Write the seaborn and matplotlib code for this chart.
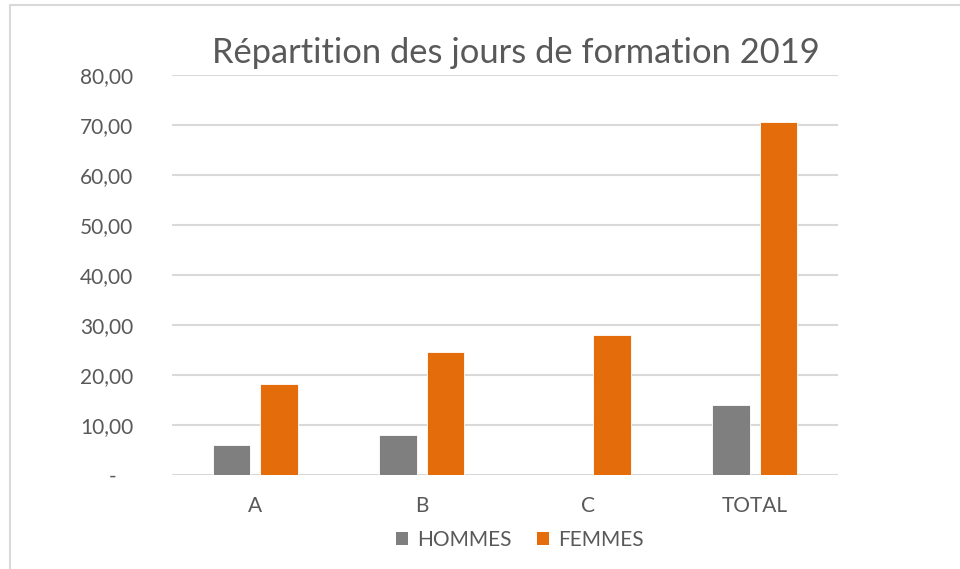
import matplotlib
matplotlib.use("Agg")
import matplotlib.pyplot as plt
import seaborn as sns
import pandas as pd
from matplotlib.lines import Line2D
from matplotlib.patches import Patch

categories = ["A", "B", "C", "TOTAL"]
hommes = [6.0, 8.1, 0.0, 14.1]
femmes = [18.2, 24.6, 28.1, 70.6]
series = ["HOMMES", "FEMMES"]
colors = ["#7F7F7F", "#E46C0A"]
yticks = [0, 10, 20, 30, 40, 50, 60, 70, 80]
title = "Répartition des jours de formation 2019"

df = pd.DataFrame({
    "cat": categories * 2,
    "serie": [series[0]] * len(categories) + [series[1]] * len(categories),
    "val": hommes + femmes,
})

sns.set_theme(style="white")
plt.rcParams["font.family"] = ["Lato", "DejaVu Sans"]

W, H = 960, 569
fig = plt.figure(figsize=(W / 100, H / 100), dpi=100)
ax = fig.add_axes([172 / W, 1 - 475 / H, (838 - 172) / W, (475 - 75) / H])

sns.barplot(data=df, x="cat", y="val", hue="serie", palette=colors,
            width=0.571, gap=0.215, ax=ax, legend=False,
            edgecolor="white", linewidth=0.6, saturation=1, errorbar=None)

ax.set_ylim(0, 80)
ax.set_xlim(-0.5, 3.5)
ax.set_yticks(yticks)
ax.set_yticklabels(["-   " if v == 0 else f"{v:.2f}".replace(".", ",") for v in yticks])
ax.yaxis.grid(True, color="#D9D9D9", linewidth=1.5)
ax.set_axisbelow(True)
for s in ax.spines.values():
    s.set_visible(False)
ax.tick_params(axis="both", length=0, labelsize=15, colors="#595959")
ax.tick_params(axis="y", pad=28)
ax.tick_params(axis="x", pad=15)
ax.set_xlabel("")
ax.set_ylabel("")

fig.text(516 / W, 1 - 53 / H, title, ha="center", va="center",
         fontsize=24.8, color="#595959")

handles = [Patch(facecolor=c, edgecolor="none") for c in colors]
fig.legend(handles, series, loc="center", bbox_to_anchor=(520 / W, 1 - 540 / H),
           ncol=2, frameon=False, fontsize=15, labelcolor="#595959",
           handlelength=0.6, handleheight=0.6, handletextpad=0.43, columnspacing=1.2)

fig.add_artist(Line2D([10 / W, 10 / W], [0, 1 - 5 / H], transform=fig.transFigure,
                      color="#D9D9D9", linewidth=1.5))
fig.add_artist(Line2D([10 / W, 1], [1 - 5 / H, 1 - 5 / H], transform=fig.transFigure,
                      color="#D9D9D9", linewidth=1.5))

fig.savefig("out.png", dpi=100)
